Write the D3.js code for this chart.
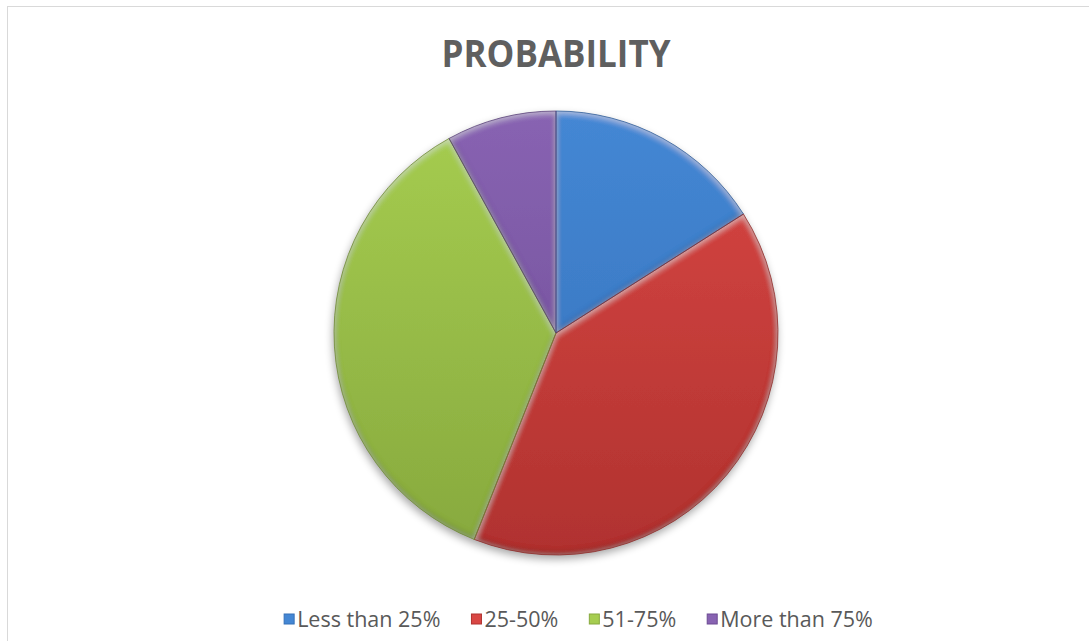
<!DOCTYPE html>
<html>
<head>
<meta charset="utf-8">
<script src="https://cdn.jsdelivr.net/npm/d3@7"></script>
<style>
  html, body { margin: 0; padding: 0; background: #ffffff; }
  svg { display: block; }
</style>
</head>
<body>
<svg id="chart" width="1089" height="641"></svg>
<script>
const title = "PROBABILITY";
const categories = ["Less than 25%", "25-50%", "51-75%", "More than 75%"];
const values = [16, 40, 36, 8];
const colorsLight = ["#4487d4", "#d94744", "#a6cd50", "#8863b2"];
const colorsDark  = ["#3570b8", "#b0322f", "#87a93e", "#6c4b93"];

const W = 1089, H = 641;
const svg = d3.select("#chart");
const defs = svg.append("defs");

// frame
svg.append("rect").attr("x", 7.5).attr("y", 6.5).attr("width", 1200).attr("height", 800)
  .attr("fill", "#fff").attr("stroke", "#d9d9d9").attr("stroke-width", 1);

// title
svg.append("text").attr("x", 556).attr("y", 67).attr("text-anchor", "middle")
  .attr("font-family", "'Open Sans', sans-serif").attr("font-weight", 700)
  .attr("font-size", 37).attr("fill", "#5f5f5f")
  .attr("textLength", 229).attr("lengthAdjust", "spacingAndGlyphs")
  .text(title);

const cx = 556, cy = 333, R = 222;

// gradients
categories.forEach((c, i) => {
  const g = defs.append("linearGradient").attr("id", "grad" + i)
    .attr("gradientUnits", "userSpaceOnUse")
    .attr("x1", 0).attr("y1", -R).attr("x2", 0).attr("y2", R);
  g.append("stop").attr("offset", "0%").attr("stop-color", colorsLight[i]);
  g.append("stop").attr("offset", "100%").attr("stop-color", colorsDark[i]);
});

// bevel filter (inner shadow + highlight)
const f = defs.append("filter").attr("id", "bevel").attr("x", "-10%").attr("y", "-10%").attr("width", "120%").attr("height", "120%");
f.append("feComponentTransfer").attr("in", "SourceAlpha").attr("result", "inv")
  .append("feFuncA").attr("type", "table").attr("tableValues", "1 0");
f.append("feGaussianBlur").attr("in", "inv").attr("stdDeviation", 3).attr("result", "invBlur");
f.append("feOffset").attr("in", "invBlur").attr("dx", 0).attr("dy", -2).attr("result", "offDark");
f.append("feFlood").attr("flood-color", "#000").attr("flood-opacity", 0.5).attr("result", "darkC");
f.append("feComposite").attr("in", "darkC").attr("in2", "offDark").attr("operator", "in").attr("result", "dark1");
f.append("feComposite").attr("in", "dark1").attr("in2", "SourceAlpha").attr("operator", "in").attr("result", "darkShadow");
f.append("feOffset").attr("in", "invBlur").attr("dx", 0).attr("dy", 2).attr("result", "offLight");
f.append("feFlood").attr("flood-color", "#fff").attr("flood-opacity", 0.45).attr("result", "lightC");
f.append("feComposite").attr("in", "lightC").attr("in2", "offLight").attr("operator", "in").attr("result", "light1");
f.append("feComposite").attr("in", "light1").attr("in2", "SourceAlpha").attr("operator", "in").attr("result", "lightHi");
const m = f.append("feMerge");
m.append("feMergeNode").attr("in", "SourceGraphic");
m.append("feMergeNode").attr("in", "darkShadow");
m.append("feMergeNode").attr("in", "lightHi");

// drop shadow
const ds = defs.append("filter").attr("id", "shadow").attr("x", "-20%").attr("y", "-20%").attr("width", "140%").attr("height", "140%");
ds.append("feGaussianBlur").attr("stdDeviation", 4);

const pieG = svg.append("g").attr("transform", `translate(${cx},${cy})`);
pieG.append("circle").attr("cx", -1).attr("cy", 4).attr("r", R)
  .attr("fill", "#000").attr("opacity", 0.35).attr("filter", "url(#shadow)");

const pie = d3.pie().sort(null).value(d => d)(values);
const arc = d3.arc().innerRadius(0).outerRadius(R);

pieG.selectAll("path.slice").data(pie).join("path")
  .attr("class", "slice")
  .attr("d", arc)
  .attr("fill", (d, i) => `url(#grad${i})`)
  .attr("filter", "url(#bevel)");
pieG.selectAll("path.edge").data(pie).join("path")
  .attr("class", "edge")
  .attr("d", arc)
  .attr("fill", "none")
  .attr("stroke", (d, i) => d3.color(colorsDark[i]).darker(0.6))
  .attr("stroke-opacity", 0.75)
  .attr("stroke-width", 1);

// legend
const legend = svg.append("g");
const items = legend.selectAll("g").data(categories).join("g");
items.append("rect").attr("width", 10).attr("height", 10).attr("y", -5)
  .attr("fill", (d, i) => colorsLight[i]).attr("stroke", (d, i) => colorsDark[i]).attr("stroke-width", 1);
items.append("text").attr("x", 13).attr("y", 0).attr("dy", "0.35em")
  .attr("font-family", "'Open Sans', sans-serif").attr("font-size", 21.5).attr("fill", "#595959")
  .text(d => d);
const gap = 31;
let widths = [];
items.each(function () { widths.push(this.getBBox().width); });
const total = d3.sum(widths) + gap * (widths.length - 1);
let x0 = 578.5 - total / 2;
items.attr("transform", (d, i) => {
  const x = x0; x0 += widths[i] + gap;
  return `translate(${x},619)`;
});
</script>
</body>
</html>
